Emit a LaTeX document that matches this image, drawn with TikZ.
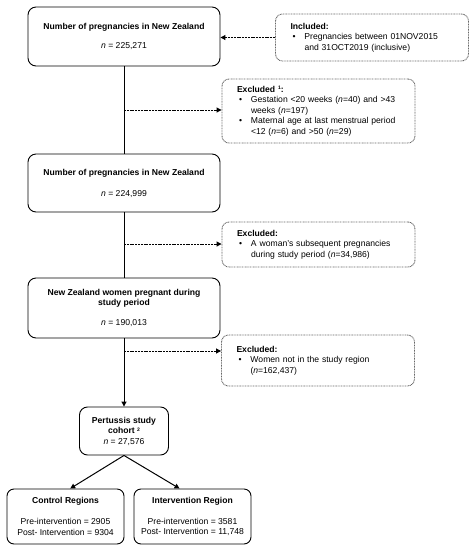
\documentclass[tikz,border=0pt]{standalone}
\usepackage{fontspec}
\setmainfont{Liberation Sans}
\usetikzlibrary{arrows.meta,positioning,calc}
\definecolor{dotgray}{HTML}{666666}

% bullet and hanging indent for the side notes
\newcommand{\itm}{\hspace*{2pt}\makebox[12pt][l]{\textbullet}}
\newcommand{\cont}{\hspace*{14pt}}
\newcommand{\fnmark}[1]{\raisebox{2.5pt}{\fontsize{5}{5}\selectfont #1}}

\begin{document}
\begin{tikzpicture}[
    x=1pt, y=-1pt,
    font=\fontsize{8.6}{10.5}\selectfont,
    >={Triangle[length=5pt, width=5pt]},
    stage/.style={draw=black, line width=0.9pt, rounded corners=8pt, inner sep=0pt, align=center, minimum width=192pt},
    note/.style={draw=dotgray, line width=0.9pt, dash pattern=on 0.9pt off 0.7pt, rounded corners=7pt, inner xsep=15pt, inner ysep=0pt, text width=163pt, align=left},
    flow/.style={line width=1pt},
    side/.style={->, line width=1pt, dash pattern=on 2pt off 0.8pt},
]
    \useasboundingbox (0,0) rectangle (476,550);

    % --- Main stages ---
    \node[stage, minimum height=59pt] (preg1) at (124,36.5) {\textbf{Number of pregnancies in New Zealand}\\[8.5pt] \textit{n} = 225,271};
    \node[stage, minimum height=58pt] (preg2) at (124,183) {\textbf{Number of pregnancies in New Zealand}\\[10.5pt] \textit{n} = 224,999};
    \node[stage, minimum height=60pt] (women) at (124,308) {\textbf{New Zealand women pregnant during}\\ \textbf{study period}\\[9.5pt] \textit{n} = 190,013};
    \node[stage, minimum width=89pt, minimum height=48pt] (cohort) at (124,431) {\textbf{Pertussis study}\\ \textbf{cohort \fnmark{2}}\\ \textit{n} = 27,576};

    % --- Study arms ---
    \node[stage, minimum width=117pt, minimum height=55pt, rounded corners=7pt] (ctrl) at (65.5,516.5) {\textbf{Control Regions}\\[10.5pt] Pre-intervention = 2905\\ Post- Intervention = 9304};
    \node[stage, minimum width=117pt, minimum height=55pt, rounded corners=7pt] (intv) at (192.5,516.5) {\textbf{Intervention Region}\\[10.5pt] Pre-intervention = 3581\\ Post- Intervention = 11,748};

    % --- Side notes ---
    \node[note, minimum height=47pt] (incl) at (372,37.5) {\textbf{Included:}\\ \itm Pregnancies between 01NOV2015\\ \cont and 31OCT2019 (inclusive)};
    \node[note, minimum height=64pt] (excl1) at (318.5,111) {\textbf{Excluded \fnmark{1}:}\\ \itm Gestation <20 weeks (\textit{n}=40) and >43\\ \cont weeks (\textit{n}=197)\\ \itm Maternal age at last menstrual period\\ \cont <12 (\textit{n}=6) and >50 (\textit{n}=29)};
    \node[note, minimum height=45pt] (excl2) at (318.5,244.5) {\textbf{Excluded:}\\ \itm A woman's subsequent pregnancies\\ \cont during study period (\textit{n}=34,986)};
    \node[note, minimum height=51pt] (excl3) at (318,360.5) {\textbf{Excluded:}\\ \itm Women not in the study region\\ \cont (\textit{n}=162,437)};

    % branch points on the main line
    \coordinate (j1) at (124,110);
    \coordinate (j2) at (124,244);
    \coordinate (j3) at (124,351);

    % --- Main flow ---
    \draw[flow] (preg1) -- (preg2);
    \draw[flow] (preg2) -- (women);
    \draw[flow, ->] (women) -- (cohort);
    \draw[flow, ->] (cohort.south) -- ($(ctrl.north west)!0.54!(ctrl.north east)$);
    \draw[flow, ->] (cohort.south) -- ($(intv.north west)!0.39!(intv.north east)$);

    % --- Inclusion / exclusion arrows ---
    \draw[side] (incl.west) -- (incl.west -| preg1.east);
    \draw[side] (j1) -- (j1 -| excl1.west);
    \draw[side] (j2) -- (j2 -| excl2.west);
    \draw[side] (j3) -- (j3 -| excl3.west);

\end{tikzpicture}
\end{document}
